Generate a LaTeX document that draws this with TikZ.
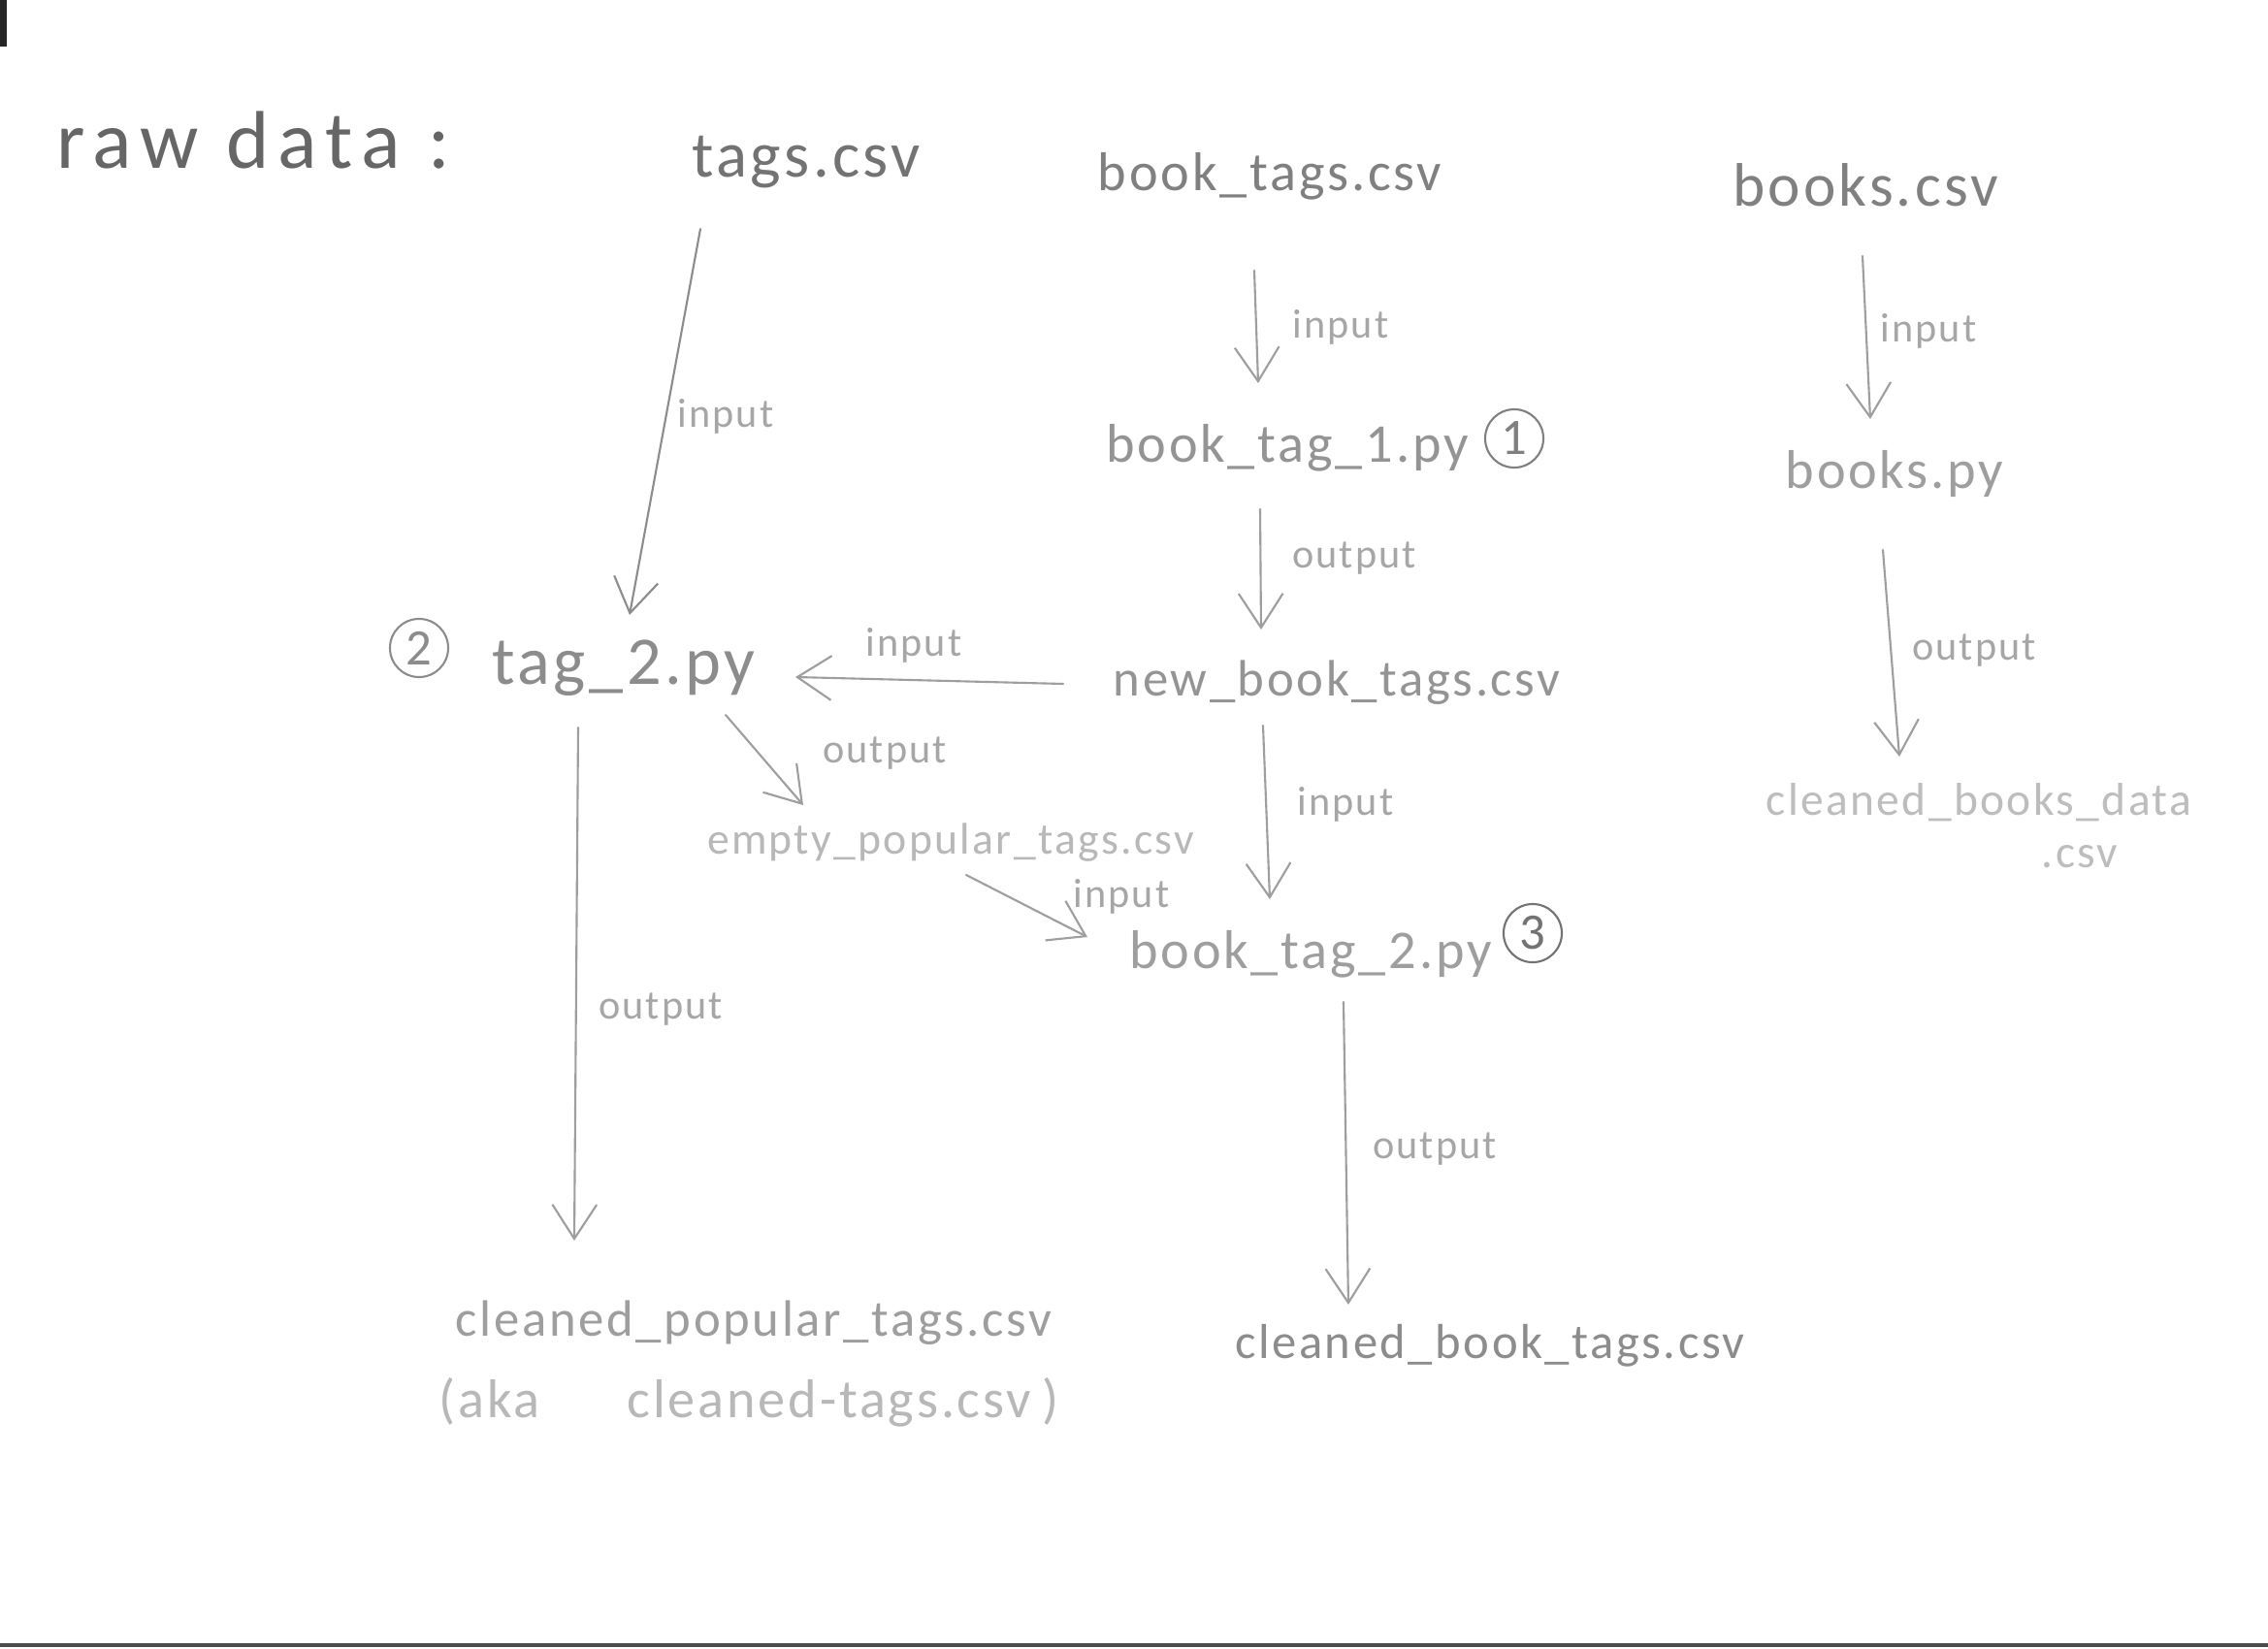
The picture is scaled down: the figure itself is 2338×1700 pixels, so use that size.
\documentclass[tikz,border=0pt]{standalone}
\usepackage{fontspec}
\setmainfont{Carlito}[LetterSpace=5]
\usetikzlibrary{arrows.meta}
\begin{document}
\begin{tikzpicture}[x=0.01cm,y=-0.01cm,
  pencil/.style={line width=0.6pt, line cap=round, line join=round},
  arr/.style={pencil, draw=black!38, -{Straight Barb[length=10pt,width=13pt,line width=0.6pt]}},
  file/.style={font=\fontsize{#1}{#1}\selectfont, inner sep=0pt, anchor=center},
  file/.default=16,
  lbl/.style={font=\fontsize{12}{14}\selectfont, inner sep=0pt, text=black!35},
  num/.style={draw, circle, minimum size=0.6cm, inner sep=0pt, line width=0.6pt,
              font=\fontsize{15}{16}\selectfont}
]
% sheet
\fill[white] (0,0) rectangle (2338,1700);
\useasboundingbox (0,0) rectangle (2338,1700);
\fill[black!85] (0,0) rectangle (7,48);
\draw[black!70, line width=1.2pt] (0,1696) -- (2338,1696);

% files and scripts
\node[file=24, text=black!60] (raw) at (261,145) {\addfontfeature{LetterSpace=11}raw data :};
\node[file=19, text=black!55] (tags) at (831,167) {tags.csv};
\node[file, text=black!50] (booktags) at (1309,182) {book\_tags.csv};
\node[file=18, text=black!50] (books) at (1923,191) {books.csv};
\node[file, text=black!42] (bt1) at (1327,462) {book\_tag\_1.py};
\node[num, draw=black!50, text=black!50] (c1) at (1561,452) {1};
\node[file, text=black!38] (bookspy) at (1953,489) {books.py};
\node[file=20, text=black!45] (tag2) at (643,689) {tag\_2.py};
\node[num, draw=black!45, text=black!45] (c2) at (432,668) {2};
\node[file=15, text=black!42] (nbt) at (1378,704) {new\_book\_tags.csv};
\node[file=13, text=black!28] (empty) at (980,869) {empty\_popular\_tags.csv};
\node[file, text=black!38] (bt2) at (1351,984) {book\_tag\_2.py};
\node[num, draw=black!55, text=black!55] (c3) at (1580,962) {3};
\node[file=13.5, text=black!26] (cbd) at (2040,827) {cleaned\_books\_data};
\node[file=13.5, text=black!26] (cbdext) at (2144,883) {.csv};
\node[file=15, text=black!38] (cpt) at (777,1364) {cleaned\_popular\_tags.csv};
\node[file=16, text=black!28] (aka) at (772,1446) {(aka\hspace{1.6em}cleaned-tags.csv\hspace{0.2em})};
\node[file=14.4, text=black!45] (cbt) at (1536,1387) {cleaned\_book\_tags.csv};

% connectors
\draw[arr, draw=black!45] ([shift={(-109,69)}]tags.center) -- ([shift={(6,-55)}]tag2.center);
\draw[arr] ([shift={(-16,97)}]booktags.center) -- ([shift={(-30,-67)}]bt1.center);
\draw[arr] ([shift={(-3,73)}]books.center) -- ([shift={(-25,-57)}]bookspy.center);
\draw[arr] ([shift={(-28,63)}]bt1.center) -- ([shift={(-78,-55)}]nbt.center);
\draw[arr] ([shift={(-12,78)}]bookspy.center) -- ([shift={(-82,-47)}]cbd.center);
\draw[arr] ([shift={(-282,1)}]nbt.center) -- ([shift={(177,9)}]tag2.center);
\draw[arr] ([shift={(105,48)}]tag2.center) -- ([shift={(-152,-39)}]empty.center);
\draw[arr] ([shift={(-76,44)}]nbt.center) -- ([shift={(-42,-57)}]bt2.center);
\draw[arr] ([shift={(16,33)}]empty.center) -- ([shift={(-230,-18)}]bt2.center);
\draw[arr] ([shift={(-47,61)}]tag2.center) -- ([shift={(-185,-85)}]cpt.center);
\draw[arr] ([shift={(34,49)}]bt2.center) -- ([shift={(-146,-42)}]cbt.center);

% connector labels
\node[lbl] (l1) at (748,429) {input};
\node[lbl] (l2) at (1382,337) {input};
\node[lbl] (l3) at (1988,341) {input};
\node[lbl] (l4) at (1396,576) {output};
\node[lbl] (l5) at (2035,671) {output};
\node[lbl] (l6) at (942,665) {input};
\node[lbl] (l7) at (912,777) {output};
\node[lbl] (l8) at (1387,829) {input};
\node[lbl] (l9) at (1156,924) {input};
\node[lbl] (l10) at (681,1041) {output};
\node[lbl] (l11) at (1479,1185) {output};
\end{tikzpicture}
\end{document}
